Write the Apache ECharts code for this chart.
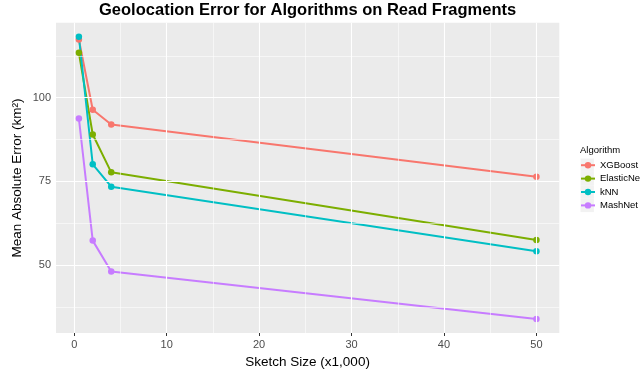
<!DOCTYPE html>
<html>
<head>
<meta charset="utf-8">
<script src="https://cdn.jsdelivr.net/npm/echarts@6/dist/echarts.min.js"></script>
<style>html,body{margin:0;padding:0;background:#fff}#c{width:640px;height:391px}</style>
</head>
<body>
<div id="c"></div>
<script>
const sketchSizes = [0.5, 2, 4, 50];
const xgboost    = [117.4, 96.4, 92.0, 76.4];
const elasticNet = [113.4, 89.0, 77.7, 57.5];
const knn        = [118.2, 80.1, 73.4, 54.1];
const mashNet    = [93.8, 57.3, 48.1, 33.9];
const seriesNames = ['XGBoost', 'ElasticNet', 'kNN', 'MashNet'];
const seriesValues = [xgboost, elasticNet, knn, mashNet];
const colors = ['#F8766D', '#7CAE00', '#00BFC4', '#C77CFF'];
const xTicks = [0, 10, 20, 30, 40, 50];
const xMinor = [5, 15, 25, 35, 45];
const yTicks = [50, 75, 100];
const yMinor = [37.5, 62.5, 87.5, 112.5];

const FONT = '"Liberation Sans", Arial, sans-serif';
const chart = echarts.init(document.getElementById('c'), null, {renderer: 'canvas'});

const gridLines = [];
xMinor.forEach(v => gridLines.push({xAxis: v, lineStyle: {width: 0.55}}));
yMinor.forEach(v => gridLines.push({yAxis: v, lineStyle: {width: 0.55}}));
xTicks.forEach(v => gridLines.push({xAxis: v, lineStyle: {width: 1.1}}));
yTicks.forEach(v => gridLines.push({yAxis: v, lineStyle: {width: 1.1}}));

const series = [{
  type: 'line', data: [], z: 1, silent: true,
  markLine: {
    silent: true, symbol: 'none', animation: false,
    label: {show: false},
    lineStyle: {color: '#FFFFFF', type: 'solid'},
    data: gridLines
  }
}];
seriesNames.forEach((n, i) => {
  series.push({
    name: n, type: 'line', z: 3,
    data: sketchSizes.map((x, j) => [x, seriesValues[i][j]]),
    symbol: 'circle', symbolSize: 6.5, showSymbol: true,
    lineStyle: {width: 2, color: colors[i]},
    itemStyle: {color: colors[i]},
    animation: false
  });
});

const legendKeys = seriesNames.map((n, i) => ({
  type: 'rect', z: 0,
  shape: {x: 580.5, y: 158.5 + i * 13.4, width: 13.4, height: 13.4},
  style: {fill: '#F2F2F2'}
}));

chart.setOption({
  animation: false,
  grid: {left: 56, right: 80.7, top: 22.7, bottom: 58, show: true, backgroundColor: '#EBEBEB', borderWidth: 0},
  xAxis: {
    type: 'value', min: -1.975, max: 52.475,
    axisLine: {show: false},
    splitLine: {show: false},
    axisTick: {show: true, customValues: xTicks, length: 3, lineStyle: {color: '#333333', width: 1}},
    axisLabel: {customValues: xTicks, color: '#4D4D4D', fontSize: 11, fontFamily: FONT, margin: 6, showMinLabel: true, showMaxLabel: true}
  },
  yAxis: {
    type: 'value', min: 29.7, max: 122.4,
    axisLine: {show: false},
    splitLine: {show: false},
    axisTick: {show: true, customValues: yTicks, length: 3, lineStyle: {color: '#333333', width: 1}},
    axisLabel: {customValues: yTicks, color: '#4D4D4D', fontSize: 11, fontFamily: FONT, margin: 5}
  },
  legend: {
    orient: 'vertical', left: 580, top: 158.5,
    itemWidth: 14, itemHeight: 8, itemGap: 0,
    data: seriesNames,
    textStyle: {fontSize: 9.5, fontFamily: FONT, color: '#000', lineHeight: 13.4, padding: [0,0,0,0]},
    padding: 0
  },
  graphic: [
    ...legendKeys,
    {type: 'text', x: 307.6, y: 10, style: {text: 'Geolocation Error for Algorithms on Read Fragments', font: 'bold 16.5px ' + FONT, fill: '#000', textAlign: 'center', textVerticalAlign: 'middle'}},
    {type: 'text', x: 307.6, y: 362, style: {text: 'Sketch Size (x1,000)', font: '13.5px ' + FONT, fill: '#000', textAlign: 'center', textVerticalAlign: 'middle'}},
    {type: 'text', x: 17, y: 178, rotation: Math.PI / 2, style: {text: 'Mean Absolute Error (km²)', font: '13.5px ' + FONT, fill: '#000', textAlign: 'center', textVerticalAlign: 'middle'}},
    {type: 'text', x: 580, y: 150, style: {text: 'Algorithm', font: '9.5px ' + FONT, fill: '#000', textAlign: 'left', textVerticalAlign: 'middle'}}
  ],
  series: series
});
</script>
</body>
</html>
